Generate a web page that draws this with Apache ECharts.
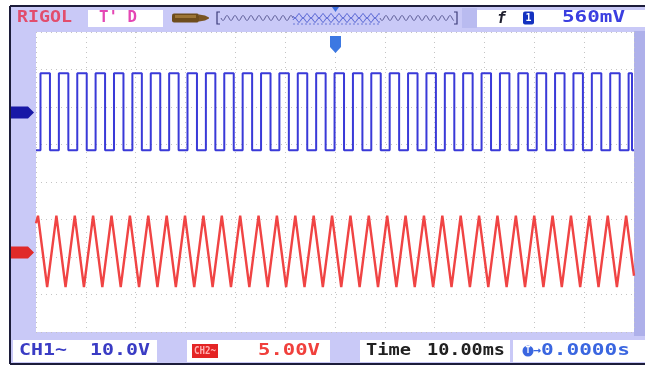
<!DOCTYPE html>
<html>
<head>
<meta charset="utf-8">
<script src="https://cdn.jsdelivr.net/npm/echarts/dist/echarts.min.js"></script>
<style>
html,body{margin:0;padding:0;background:#ffffff;}
#scope{width:651px;height:366px;}
</style>
</head>
<body>
<div id="scope"></div>
<script>
// Horizontal axis: time in ms, 10 ms per division, trigger at 0
const timeMin = -60, timeMax = 60, timeStep = 10;
// Vertical axis: screen divisions, 8 in total
const divMin = -4, divMax = 4, divStep = 1;

// CH1 square wave: edge times (ms) and levels (div)
const ch1Rise = [-59.10, -55.41, -51.72, -48.04, -44.35, -40.66, -36.97, -33.28, -29.60, -25.91, -22.22,
  -18.53, -14.84, -11.16, -7.47, -3.78, -0.09, 3.60, 7.28, 10.97, 14.66, 18.35, 22.04, 25.72, 29.41,
  33.10, 36.79, 40.48, 44.16, 47.85, 51.54, 55.23, 58.92];
const ch1Fall = [-57.20, -53.51, -49.82, -46.14, -42.45, -38.76, -35.07, -31.38, -27.70, -24.01, -20.32,
  -16.63, -12.94, -9.26, -5.57, -1.88, 1.81, 5.50, 9.18, 12.87, 16.56, 20.25, 23.94, 27.62, 31.31,
  35.00, 38.69, 42.38, 46.06, 49.75, 53.44, 57.13, 59.60];
const ch1High = 2.9, ch1Low = 0.85;

// CH2 triangle wave: peak / trough times (ms) and levels (div)
const ch2Peak = [-59.60, -55.91, -52.22, -48.54, -44.85, -41.16, -37.47, -33.78, -30.10, -26.41, -22.72,
  -19.03, -15.34, -11.66, -7.97, -4.28, -0.59, 3.10, 6.78, 10.47, 14.16, 17.85, 21.54, 25.22, 28.91,
  32.60, 36.29, 39.98, 43.66, 47.35, 51.04, 54.73, 58.42];
const ch2Trough = [-57.76, -54.07, -50.38, -46.69, -43.00, -39.32, -35.63, -31.94, -28.25, -24.56, -20.88,
  -17.19, -13.50, -9.81, -6.12, -2.44, 1.25, 4.94, 8.63, 12.32, 16.00, 19.69, 23.38, 27.07, 30.76,
  34.44, 38.13, 41.82, 45.51, 49.20, 52.88, 56.57];
const ch2High = -0.9, ch2Low = -2.8;
const ch2Start = -1.1, ch2End = -2.5;

function squarePoints() {
  const edges = ch1Rise.map(t => [t, ch1High]).concat(ch1Fall.map(t => [t, ch1Low]))
    .sort((a, b) => a[0] - b[0]);
  let level = ch1Low;
  const pts = [[timeMin, level]];
  edges.forEach(([t, next]) => {
    pts.push([t, level]);
    pts.push([t, next]);
    level = next;
  });
  pts.push([timeMax, level]);
  return pts;
}

function trianglePoints() {
  const turns = ch2Peak.map(t => [t, ch2High]).concat(ch2Trough.map(t => [t, ch2Low]))
    .sort((a, b) => a[0] - b[0]);
  return [[timeMin, ch2Start]].concat(turns, [[timeMax, ch2End]]);
}

const MONO = '"DejaVu Sans Mono", "Liberation Mono", monospace';

function label(text, x, y, fill, width, size, weight) {
  const fs = size || 15;
  const font = (weight || 'bold') + ' ' + fs + 'px ' + MONO;
  const natural = text.length * fs * 0.602;
  return {
    type: 'text', x: x, y: y, z: 60,
    scaleX: width ? width / natural : 1,
    style: { text: text, fill: fill, font: font, textVerticalAlign: 'middle', textAlign: 'left' }
  };
}

function box(x1, y1, x2, y2, fill, z) {
  return { type: 'rect', z: (z === undefined ? 50 : z), shape: { x: x1, y: y1, width: x2 - x1, height: y2 - y1 }, style: { fill: fill } };
}

// memory-depth strip wiggle
function wiggle(x1, x2, yc, amp, period, phase) {
  const pts = [];
  for (let x = x1; x <= x2; x += 0.5) pts.push([x, yc + amp * Math.sin((x - x1) / period * 2 * Math.PI + phase)]);
  return pts;
}

const graphics = [
  // frame (behind the grid)
  box(10, 6, 645, 364, '#c9c9f7', -30),
  box(634, 31, 645, 336, '#aeb0ea', -29),
  box(462, 8, 477, 28, '#b9bbf0', -29),
  box(36, 32, 634, 332, '#ffffff', -28),
  { type: 'line', z: 70, shape: { x1: 10, y1: 6, x2: 645, y2: 6 }, style: { stroke: '#1c1c3a', lineWidth: 2 } },
  { type: 'line', z: 70, shape: { x1: 10, y1: 6, x2: 10, y2: 364 }, style: { stroke: '#1c1c3a', lineWidth: 2 } },
  { type: 'line', z: 70, shape: { x1: 10, y1: 364, x2: 645, y2: 364 }, style: { stroke: '#1c1c3a', lineWidth: 2 } },

  // top status bar
  label('RIGOL', 17, 18, '#e24d6d', 55, 15),
  box(88, 10, 163, 27, '#ffffff'),
  label("T' D", 99, 18.5, '#e447b4', 38, 15),
  { type: 'rect', z: 55, shape: { x: 172, y: 13.5, width: 27, height: 9, r: 2 }, style: { fill: '#6e4c1c' } },
  { type: 'rect', z: 56, shape: { x: 175, y: 15, width: 21, height: 3 }, style: { fill: '#9c7436' } },
  { type: 'polygon', z: 55, shape: { points: [[199, 14.5], [205, 15.5], [209, 17.5], [209, 18.5], [205, 20.5], [199, 21.5]] }, style: { fill: '#7a5524' } },
  { type: 'polyline', z: 55, shape: { points: [[220, 12], [217, 12], [217, 24], [220, 24]] }, style: { stroke: '#3d3d7a', lineWidth: 1.2, fill: null } },
  { type: 'polyline', z: 55, shape: { points: [[454, 12], [457, 12], [457, 24], [454, 24]] }, style: { stroke: '#3d3d7a', lineWidth: 1.2, fill: null } },
  { type: 'polyline', z: 55, shape: { points: wiggle(221, 293, 18, 2.5, 8, 0) }, style: { stroke: '#5c5c96', lineWidth: 1, fill: null } },
  { type: 'polyline', z: 55, shape: { points: wiggle(380, 454, 18, 2.5, 8, 0) }, style: { stroke: '#5c5c96', lineWidth: 1, fill: null } },
  { type: 'polyline', z: 55, shape: { points: wiggle(293, 380, 16, 2.2, 8, 0) }, style: { stroke: '#4a5ad0', lineWidth: 1, fill: null } },
  { type: 'polyline', z: 55, shape: { points: wiggle(293, 380, 20, 2.2, 8, Math.PI) }, style: { stroke: '#4a5ad0', lineWidth: 1, fill: null } },
  { type: 'line', z: 55, shape: { x1: 293, y1: 24, x2: 380, y2: 24 }, style: { stroke: '#6a78d8', lineWidth: 1, lineDash: [2, 2] } },
  { type: 'polygon', z: 57, shape: { points: [[332, 7], [339, 7], [335.5, 12]] }, style: { fill: '#3a6ee0' } },
  box(477, 10, 645, 27, '#ffffff'),
  label('f', 497, 18.5, '#1e1e2e', 9, 16, 'italic bold'),
  { type: 'rect', z: 55, shape: { x: 523, y: 11.5, width: 11, height: 13, r: 2 }, style: { fill: '#1432c0' } },
  label('1', 525.5, 18.5, '#ffffff', 6, 11),
  label('560mV', 562, 18.5, '#3b3fe0', 63, 15),

  // trigger position marker
  { type: 'polygon', z: 65, shape: { points: [[330, 36], [341, 36], [341, 47], [335.5, 53], [330, 47]] }, style: { fill: '#3c78e2' } },
  label('T', 332.5, 42, '#ffffff', 6, 10),

  // channel ground markers
  { type: 'polygon', z: 65, shape: { points: [[10, 106.5], [28, 106.5], [34, 112.5], [28, 118.5], [10, 118.5]] }, style: { fill: '#1818a6' } },
  label('1', 17, 112.5, '#ffffff', 7, 11),
  { type: 'polygon', z: 65, shape: { points: [[10, 246.5], [28, 246.5], [34, 252.5], [28, 258.5], [10, 258.5]] }, style: { fill: '#e02a2a' } },
  label('2', 17, 252.5, '#ffffff', 7, 11),

  // bottom status bar
  box(13, 340, 157, 362, '#ffffff'),
  label('CH1~', 19, 351, '#3a3cc4', 48, 15),
  label('10.0V', 90, 351, '#3a3cc4', 60, 15),
  box(187, 340, 330, 362, '#ffffff'),
  box(192, 344, 218, 358, '#e42424', 55),
  label('CH2~', 194, 351, '#ffb0b0', 22, 10),
  label('5.00V', 258, 351, '#f0403c', 62, 15),
  box(360, 340, 510, 362, '#ffffff'),
  label('Time', 366, 351, '#202020', 45, 15),
  label('10.00ms', 427, 351, '#202020', 78, 15),
  box(513, 340, 645, 362, '#ffffff'),
  { type: 'circle', z: 55, shape: { cx: 528, cy: 351, r: 5.5 }, style: { fill: '#3a66e0' } },
  label('T', 525.5, 351, '#ffffff', 5, 9),
  label('→', 533, 351, '#3a66e0', 8, 12),
  label('0.0000s', 541, 351, '#3a66e0', 89, 15)
];

const chart = echarts.init(document.getElementById('scope'), null, { renderer: 'canvas' });
chart.setOption({
  animation: false,
  backgroundColor: 'transparent',
  grid: { left: 36, top: 32, width: 598, height: 300, containLabel: false, show: false },
  xAxis: {
    type: 'value', min: timeMin, max: timeMax, interval: timeStep,
    axisLine: { show: false }, axisTick: { show: false }, axisLabel: { show: false },
    splitLine: { show: true, lineStyle: { color: '#c4c4c4', type: [1, 4], width: 1 } }
  },
  yAxis: {
    type: 'value', min: divMin, max: divMax, interval: divStep,
    axisLine: { show: false }, axisTick: { show: false }, axisLabel: { show: false },
    splitLine: { show: true, lineStyle: { color: '#c4c4c4', type: [1, 4], width: 1 } }
  },
  graphic: graphics.map(g => Object.assign({ silent: true }, g)),
  series: [
    {
      name: 'CH1', type: 'line', data: squarePoints(), showSymbol: false, z: 10,
      lineStyle: { color: '#3a3ad8', width: 2 }
    },
    {
      name: 'CH2', type: 'line', data: trianglePoints(), showSymbol: false, z: 10,
      lineStyle: { color: '#f04444', width: 2.4 }
    }
  ]
});
</script>
</body>
</html>
